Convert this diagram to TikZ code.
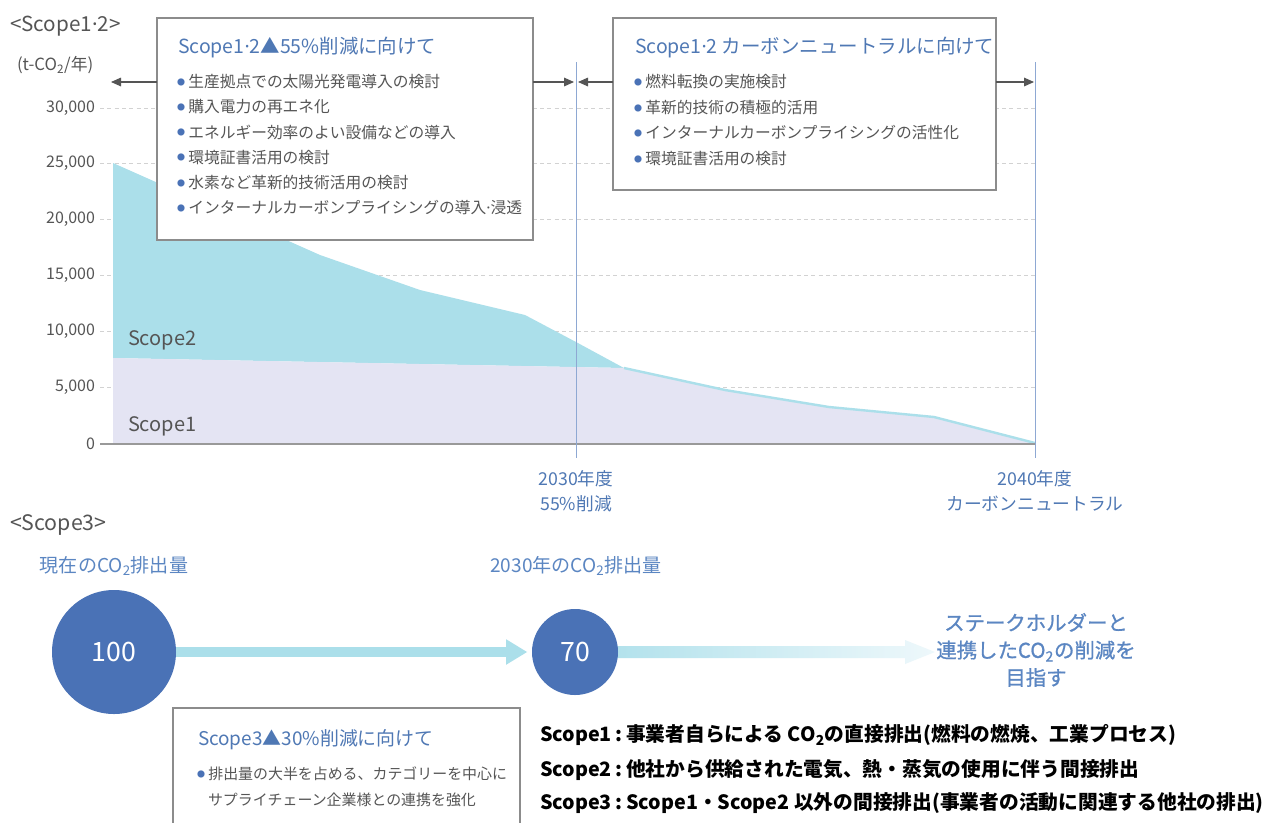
\documentclass[tikz,border=0pt]{standalone}
\usepackage{fontspec}
\setmainfont{Noto Sans CJK JP}
\newfontfamily\latf{Noto Sans}
\newfontfamily\medjp{Noto Sans CJK JP}[FakeBold=0.9]
\usetikzlibrary{arrows.meta,calc,backgrounds}
\definecolor{tblue}{HTML}{4F78B4}
\definecolor{lblue}{HTML}{5B86C2}
\definecolor{cblue}{HTML}{4A72B6}
\definecolor{tgray}{HTML}{555555}
\definecolor{cyanA}{HTML}{ABDFEA}
\definecolor{lav}{HTML}{E4E4F3}
\definecolor{vline}{HTML}{8EA8D3}
\definecolor{gridc}{HTML}{D2D2D2}
\definecolor{bord}{HTML}{8C8C8C}
\definecolor{agray}{HTML}{555555}
\definecolor{fadec}{HTML}{EEF8FB}
\newcommand\fsz[1]{\fontsize{#1pt}{#1pt}\selectfont}
\newcommand\bul{\textcolor{cblue}{\raisebox{2pt}{\fontsize{6pt}{6pt}\selectfont ●}}\hspace{2.5pt}}
\newcommand\cotwo{CO\textsubscript{2}}
\newcommand\md{{\latf ·}}
\newcommand\cln{\hspace{2.5pt}:\hspace{3pt}}
\begin{document}
\begin{tikzpicture}[x=0.75pt,y=-0.75pt,
  every node/.style={inner sep=0pt,outer sep=0pt},
  hdr/.style={anchor=west,text=tgray,font=\fsz{15.5}},
  ylab/.style={anchor=east,text=tgray,font=\fsz{12}},
  gridl/.style={draw=gridc,dash pattern=on 3pt off 2.5pt,line width=0.6pt},
  vl/.style={draw=vline,line width=0.75pt},
  boxst/.style={draw=bord,fill=white,line width=0.8pt,rectangle,anchor=north west},
  btitle/.style={anchor=west,text=tblue,font=\fsz{14.6}},
  bitem/.style={anchor=west,text=tgray,font=\fsz{11.8}},
  spanarrow/.style={draw=agray,line width=0.8pt,-{Triangle[length=7.5pt,width=6.5pt]}},
  axlab/.style={text=tblue,font=\fontsize{13.3pt}{19pt}\selectfont,align=center},
  sclab/.style={anchor=west,text=tgray,font=\fsz{15}},
  circ/.style={circle,fill=cblue,text=white,font=\fsz{20}},
  legend/.style={anchor=west,font=\bfseries\fsz{14.8},text=black},
  bigarrow/.style={draw=cyanA,line width=7.5pt,-{Triangle[length=16pt,width=18pt]},shorten >=3.5pt}
]
\useasboundingbox (0,0) rectangle (1270,822);
\begin{scope}[on background layer]
\fill[white] (0,0) rectangle (1270,822);
\end{scope}

% headers
\node[hdr] (h12) at (10,26) {<Scope1\md 2>};
\node[anchor=west,text=tgray,font=\fsz{12.6}] (unit) at (17,65) {(t-\cotwo/年)};

% y labels and grid
\foreach \yy in {108,163,219,275,331,387}{
  \draw[gridl] (100,\yy) -- (1035,\yy);
}
\node[ylab] (y30) at (95,108) {30,000};
\node[ylab] (y25) at (95,163) {25,000};
\node[ylab] (y20) at (95,219) {20,000};
\node[ylab] (y15) at (95,275) {15,000};
\node[ylab] (y10) at (95,331) {10,000};
\node[ylab] (y5) at (95,387) {5,000};
\node[ylab] (y0) at (95,444) {0};

% areas
\fill[cyanA] (113,163) -- (320,255) -- (420,290) -- (525,315) -- (576,342) -- (624,368) -- (113,358) -- cycle;
\fill[lav] (113,358) -- (624,368) -- (725,390) -- (829,407) -- (934,417) -- (1035,443) -- (1035,444) -- (113,444) -- cycle;
\draw[cyanA,line width=1.8pt,line join=round] (624,368) -- (725,390) -- (829,407) -- (934,417) -- (1035,443);
\draw[draw=gray!80,line width=1pt] (100,444) -- (1035,444);

\node[sclab] (s2) at (128,340) {Scope2};
\node[sclab] (s1) at (128,426) {Scope1};

% vertical lines
\draw[vl] (576,62) -- (576,458);
\draw[vl] (1035,62) -- (1035,458);

\node[axlab] (x2030) at (576,491) {2030年度\\55\%削減};
\node[axlab] (x2040) at (1035,491) {2040年度\\カーボンニュートラル};

% boxes
\node[boxst,minimum width=282pt,minimum height=166.5pt] (box1) at (157,18) {};
\node[boxst,minimum width=287.25pt,minimum height=129pt] (box2) at (613,18) {};

\node[btitle] (t1) at (178,48) {Scope1\md 2▲55\%削減に向けて};
\node[bitem] (b11) at (177,82) {\bul 生産拠点での太陽光発電導入の検討};
\node[bitem] (b12) at (177,107) {\bul 購入電力の再エネ化};
\node[bitem] (b13) at (177,132) {\bul エネルギー効率のよい設備などの導入};
\node[bitem] (b14) at (177,157.5) {\bul 環境証書活用の検討};
\node[bitem] (b15) at (177,183) {\bul 水素など革新的技術活用の検討};
\node[bitem] (b16) at (177,208) {\bul インターナルカーボンプライシングの導入\md 浸透};

\node[btitle] (t2) at (635,48) {Scope1\md 2 カーボンニュートラルに向けて};
\node[bitem] (b21) at (634,82) {\bul 燃料転換の実施検討};
\node[bitem] (b22) at (634,108) {\bul 革新的技術の積極的活用};
\node[bitem] (b23) at (634,133) {\bul インターナルカーボンプライシングの活性化};
\node[bitem] (b24) at (634,159) {\bul 環境証書活用の検討};

% span arrows
\coordinate (l1) at (111,82);
\coordinate (r1) at (574,82);
\coordinate (l2) at (578,82);
\coordinate (r2) at (1034,82);
\draw[spanarrow] (box1.west |- l1) -- (l1);
\draw[spanarrow] (box1.east |- r1) -- (r1);
\draw[spanarrow] (box2.west |- l2) -- (l2);
\draw[spanarrow] (box2.east |- r2) -- (r2);

% Scope3 section
\node[hdr,font=\fsz{16}] (h3) at (10,525) {<Scope3>};
\node[text=lblue,font=\fsz{14.3}] (now) at (114,566) {現在の\cotwo 排出量};
\node[text=lblue,font=\fsz{14.3}] (y2030) at (576,566) {2030年の\cotwo 排出量};

\node[circ,minimum size=93pt] (c100) at (114,652) {100};
\node[circ,minimum size=64.5pt] (c70) at (575,652) {70};

\node[text=lblue,font=\medjp\fontsize{15.3pt}{20.6pt}\selectfont,align=center] (goal) at (1036,650) {ステークホルダーと\\連携した\cotwo の削減を\\目指す};
\coordinate (tip) at (935,652);

\begin{scope}[on background layer]
  \draw[bigarrow] (c100) -- (c70);
  \shade[left color=cyanA,right color=fadec]
    ($(c70.center)+(0,-6)$) -- ($(tip)+(-30,-6)$) -- ($(tip)+(-30,-12)$) -- (tip)
    -- ($(tip)+(-30,12)$) -- ($(tip)+(-30,6)$) -- ($(c70.center)+(0,6)$) -- cycle;
\end{scope}

\node[boxst,minimum width=260.25pt,minimum height=95pt] (box3) at (173,708) {};
\node[btitle,font=\fsz{14.2}] (t3) at (198,740) {Scope3▲30\%削減に向けて};
\node[bitem,font=\fsz{11.2}] (b31) at (197,774) {\bul 排出量の大半を占める、カテゴリーを中心に};
\node[bitem,font=\fsz{11.2}] (b32) at (208,800) {サプライチェーン企業様との連携を強化};

% legend
\node[legend] (lg1) at (540,735) {Scope1\cln 事業者自らによる \cotwo の直接排出(燃料の燃焼、工業プロセス)};
\node[legend] (lg2) at (540,770) {Scope2\cln 他社から供給された電気、熱・蒸気の使用に伴う間接排出};
\node[legend] (lg3) at (540,803) {Scope3\cln Scope1・Scope2 以外の間接排出(事業者の活動に関連する他社の排出)};
\end{tikzpicture}
\end{document}
